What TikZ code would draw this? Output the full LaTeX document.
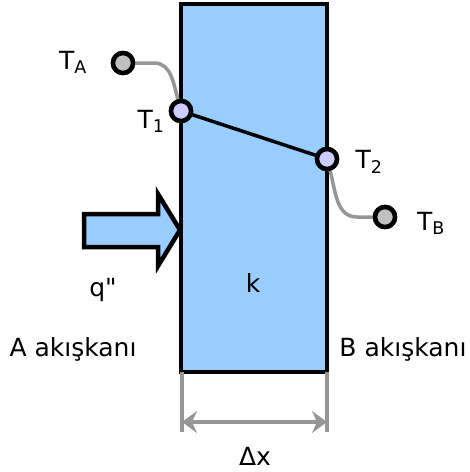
\documentclass[tikz,border=0pt]{standalone}
\usepackage{fontspec}
\setmainfont{DejaVu Sans}
\usetikzlibrary{arrows.meta}
\usepackage{xcolor}
\definecolor{slab}{RGB}{153,204,255}
\definecolor{probe}{RGB}{204,204,255}
\definecolor{wire}{RGB}{150,150,150}
\definecolor{fluid}{RGB}{192,192,192}

\begin{document}
\begin{tikzpicture}[x=1pt,y=-1pt,>={Stealth[length=15pt,width=22pt,inset=5pt]},
  lbl/.style={font=\fontsize{25}{25}\selectfont,inner sep=0pt},
  surf/.style={circle,draw=black,line width=4.5pt,fill=probe,minimum size=20pt,inner sep=0pt},
  bulk/.style={circle,draw=black,line width=4.5pt,fill=fluid,minimum size=20pt,inner sep=0pt}]
\useasboundingbox (0,0) rectangle (470,472);
\node[draw=black,line width=4.5pt,fill=slab,minimum width=146pt,minimum height=368pt,inner sep=0pt] (wall) at (254,188) {};
\draw[line width=4.5pt,fill=slab,line join=miter] (84,214) -- (158,214) -- (158,194) -- (180,230) -- (158,266) -- (158,247) -- (84,247) -- cycle;
\node[bulk] (TA) at (123,63) {};
\node[bulk] (TB) at (385,217) {};
\node[surf] (T1) at (181,111) {};
\node[surf] (T2) at (327,159) {};
\draw[wire,line width=3.5pt] (TA.center) -- (154,63) to[out=0,in=105] (T1);
\draw[wire,line width=3.5pt] (T2) to[out=-75,in=180] (357,217) -- (TB.west);
\draw[line width=3.5pt] (T1) -- (T2);
\node[surf] at (T1) {};
\node[surf] at (T2) {};
\node[bulk] at (TA) {};
\node[bulk] at (TB) {};
% labels
\node[lbl] (lTA) at (73,62) {T\textsubscript{A}};
\node[lbl] (lT1) at (151,121) {T\textsubscript{1}};
\node[lbl] (lT2) at (369,162) {T\textsubscript{2}};
\node[lbl] (lTB) at (431,223) {T\textsubscript{B}};
\node[lbl] (q) at (103,290) {q\textquotedbl};
\node[lbl] (k) at (253,283) {k};
\node[lbl] (A) at (73,349) {A akışkanı};
\node[lbl] (B) at (403,349) {B akışkanı};
% thickness
\coordinate (d1) at (182,372);
\coordinate (d2) at (327,372);
\draw[wire,line width=3.5pt] (d1) -- ++(0,60) (d2) -- ++(0,60);
\draw[wire,line width=3.5pt,<->] ([yshift=-50pt]d1) -- ([yshift=-50pt]d2);
\node[lbl] (dx) at (255,456) {Δx};
\end{tikzpicture}
\end{document}
